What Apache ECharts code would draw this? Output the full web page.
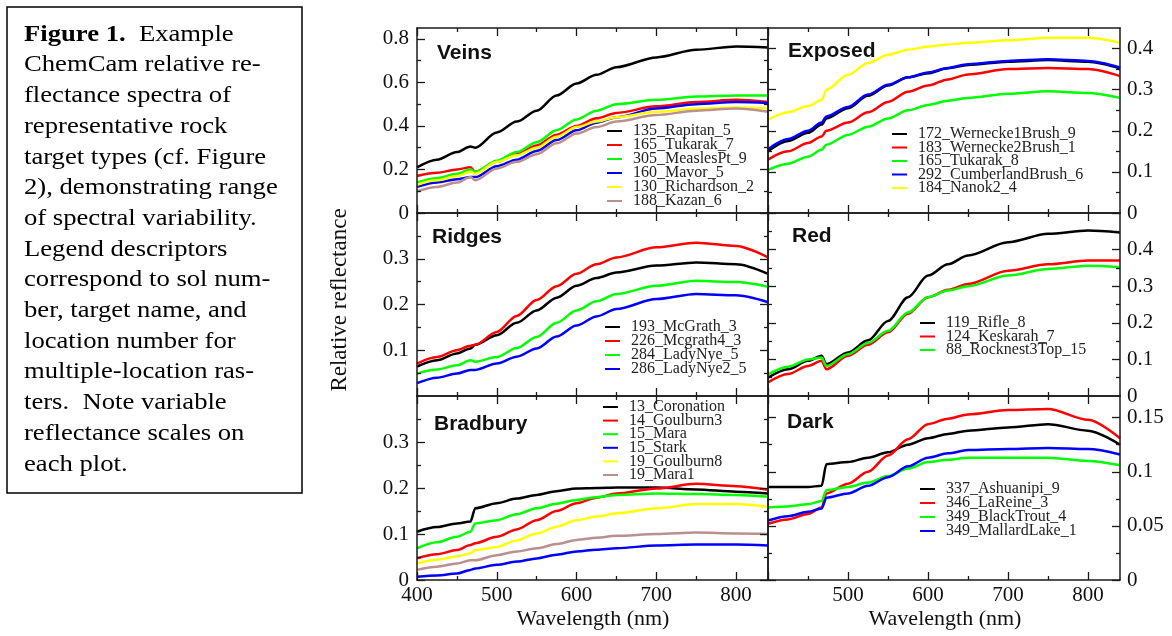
<!DOCTYPE html>
<html><head><meta charset="utf-8">
<script src="https://cdn.jsdelivr.net/npm/echarts@6/dist/echarts.min.js"></script>
<style>html,body{margin:0;padding:0;background:#fff}#c{width:1172px;height:636px}</style>
</head><body><div id="c"></div>
<script>
// ---------- DATA ----------
const wavelengths = [400, 425, 450, 467, 473, 500, 525, 550, 575, 600, 625, 650, 700, 750, 800, 840];

// Veins
const veins_135_Rapitan_5      = [.21, .245, .28, .305, .30, .37, .42, .47, .54, .595, .635, .67, .715, .75, .765, .76];
const veins_165_Tukarak_7      = [.17, .185, .20, .21, .19, .235, .27, .31, .36, .40, .435, .46, .49, .51, .52, .51];
const veins_305_MeaslesPt_9    = [.14, .16, .18, .20, .19, .24, .28, .325, .38, .43, .47, .50, .52, .535, .54, .54];
const veins_160_Mavor_5        = [.12, .14, .155, .165, .165, .215, .245, .285, .335, .38, .415, .44, .48, .50, .51, .505];
const veins_130_Richardson_2   = [.13, .15, .17, .19, .18, .235, .265, .30, .35, .395, .42, .44, .465, .48, .485, .48];
const veins_188_Kazan_6        = [.10, .12, .14, .165, .15, .205, .235, .27, .32, .365, .395, .42, .45, .47, .48, .465];
// Exposed
const exp_172_Wernecke1Brush_9   = [.15, .175, .195, .215, .23, .255, .285, .31, .33, .34, .352, .36, .368, .372, .368, .352];
const exp_183_Wernecke2Brush_1   = [.13, .15, .17, .186, .20, .22, .245, .27, .295, .31, .325, .337, .35, .353, .35, .333];
const exp_165_Tukarak_8          = [.105, .12, .137, .154, .166, .19, .21, .23, .25, .263, .273, .28, .29, .296, .292, .28];
const exp_292_CumberlandBrush_6  = [.155, .18, .20, .22, .235, .258, .288, .312, .33, .342, .353, .362, .37, .374, .37, .354];
const exp_184_Nanok2_4           = [.227, .245, .26, .275, .30, .336, .365, .385, .397, .405, .41, .414, .42, .426, .426, .414];
// Ridges
const rid_193_McGrath_3     = [.064, .078, .093, .104, .112, .133, .16, .187, .215, .241, .258, .27, .285, .292, .288, .267];
const rid_226_Mcgrath4_3    = [.071, .085, .10, .11, .112, .14, .175, .21, .24, .267, .288, .303, .325, .335, .328, .303];
const rid_284_LadyNye_5     = [.049, .058, .067, .078, .075, .085, .105, .129, .16, .187, .207, .223, .241, .252, .249, .239];
const rid_286_LadyNye2_5    = [.028, .04, .049, .057, .057, .071, .086, .104, .13, .154, .174, .19, .212, .223, .22, .205];
// Red
const red_119_Rifle_8          = [.05, .073, .096, .11, .087, .119, .152, .205, .27, .329, .36, .384, .42, .443, .452, .447];
const red_124_Keskarah_7       = [.037, .06, .082, .096, .073, .11, .14, .174, .225, .27, .29, .306, .342, .36, .37, .37];
const red_88_Rocknest3Top_15   = [.059, .08, .10, .105, .082, .114, .145, .178, .228, .27, .288, .30, .329, .347, .356, .352];
// Bradbury
const bra_13_Coronation  = [.105, .115, .123, .127, .156, .167, .177, .185, .193, .199, .20, .201, .201, .197, .192, .188];
const bra_14_Goulburn3   = [.047, .056, .065, .076, .08, .094, .11, .13, .15, .167, .179, .188, .199, .209, .204, .196];
const bra_15_Mara        = [.069, .082, .094, .105, .123, .13, .143, .156, .166, .174, .18, .185, .188, .187, .185, .181];
const bra_15_Stark       = [.007, .01, .014, .022, .025, .033, .04, .047, .055, .062, .066, .069, .075, .077, .077, .075];
const bra_19_Goulburn8   = [.036, .044, .051, .058, .065, .072, .086, .101, .116, .13, .138, .145, .156, .165, .165, .159];
const bra_19_Mara1       = [.022, .029, .036, .043, .043, .054, .062, .069, .078, .087, .092, .096, .10, .103, .101, .10];
// Dark
const dark_337_Ashuanipi_9   = [.086, .086, .086, .087, .107, .109, .113, .118, .125, .131, .135, .138, .141, .144, .138, .125];
const dark_346_LaReine_3     = [.052, .056, .061, .067, .08, .089, .10, .115, .13, .144, .149, .153, .157, .158, .148, .131];
const dark_349_BlackTrout_4  = [.067, .068, .07, .073, .083, .086, .09, .096, .103, .109, .111, .113, .113, .113, .11, .106];
const dark_349_MallardLake_1 = [.055, .059, .063, .066, .076, .08, .087, .095, .105, .113, .117, .12, .121, .122, .121, .116];

// tick values / labels
const xMajorTicks = [400, 500, 600, 700, 800];
const xMinorTicks = [450, 550, 650, 750];
const xLabelsLeft = [400, 500, 600, 700, 800];
const xLabelsRight = [500, 600, 700, 800];

const veinsTicks = [0, 0.2, 0.4, 0.6, 0.8],   veinsMinor = [0.1, 0.3, 0.5, 0.7],   veinsLabels = [0, 0.2, 0.4, 0.6, 0.8];
const exposedTicks = [0, 0.1, 0.2, 0.3, 0.4], exposedMinor = [0.05, 0.15, 0.25, 0.35], exposedLabels = [0, 0.1, 0.2, 0.3, 0.4];
const ridgesTicks = [0.1, 0.2, 0.3],          ridgesMinor = [0.05, 0.15, 0.25, 0.35], ridgesLabels = [0.1, 0.2, 0.3];
const redTicks = [0.1, 0.2, 0.3, 0.4],        redMinor = [0.05, 0.15, 0.25, 0.35, 0.45], redLabels = [0, 0.1, 0.2, 0.3, 0.4];
const bradTicks = [0, 0.1, 0.2, 0.3],         bradMinor = [0.05, 0.15, 0.25, 0.35],  bradLabels = [0, 0.1, 0.2, 0.3];
const darkTicks = [0, 0.05, 0.1, 0.15],       darkMinor = [0.025, 0.075, 0.125],     darkLabels = [0, 0.05, 0.1, 0.15];

const panelTitles = ['Veins', 'Exposed', 'Ridges', 'Red', 'Bradbury', 'Dark'];

// ---------- LAYOUT ----------
const SERIF = "'Liberation Serif', 'Times New Roman', serif";
const SANS = "'Liberation Sans', Arial, sans-serif";
const C = {k:'#000000', r:'#ff0000', g:'#00ff00', b:'#0000ff', y:'#ffff00', m:'#bc8f8f'};

const panels = [
  {left:417, top:28, w:351, h:185, ymax:0.85, yt:veinsTicks, ym:veinsMinor, yl:veinsLabels, side:'left', xl:[],
   tx:437, ty:54, lg:{left:607, top:123, gap:14},
   series:[['135_Rapitan_5', veins_135_Rapitan_5, C.k], ['165_Tukarak_7', veins_165_Tukarak_7, C.r], ['305_MeaslesPt_9', veins_305_MeaslesPt_9, C.g],
           ['160_Mavor_5', veins_160_Mavor_5, C.b], ['130_Richardson_2', veins_130_Richardson_2, C.y], ['188_Kazan_6', veins_188_Kazan_6, C.m]]},
  {left:768, top:28, w:352, h:185, ymax:0.45, yt:exposedTicks, ym:exposedMinor, yl:exposedLabels, side:'right', xl:[],
   tx:788, ty:52, lg:{left:892, top:126, gap:13.5},
   series:[['172_Wernecke1Brush_9', exp_172_Wernecke1Brush_9, C.k], ['183_Wernecke2Brush_1', exp_183_Wernecke2Brush_1, C.r], ['165_Tukarak_8', exp_165_Tukarak_8, C.g],
           ['292_CumberlandBrush_6', exp_292_CumberlandBrush_6, C.b], ['184_Nanok2_4', exp_184_Nanok2_4, C.y]]},
  {left:417, top:213, w:351, h:183, ymax:0.4, yt:ridgesTicks, ym:ridgesMinor, yl:ridgesLabels, side:'left', xl:[],
   tx:432, ty:238, lg:{left:605, top:319, gap:14},
   series:[['193_McGrath_3', rid_193_McGrath_3, C.k], ['226_Mcgrath4_3', rid_226_Mcgrath4_3, C.r], ['284_LadyNye_5', rid_284_LadyNye_5, C.g], ['286_LadyNye2_5', rid_286_LadyNye2_5, C.b]]},
  {left:768, top:213, w:352, h:183, ymax:0.5, yt:redTicks, ym:redMinor, yl:redLabels, side:'right', xl:[],
   tx:792, ty:237, lg:{left:920, top:315, gap:13.5},
   series:[['119_Rifle_8', red_119_Rifle_8, C.k], ['124_Keskarah_7', red_124_Keskarah_7, C.r], ['88_Rocknest3Top_15', red_88_Rocknest3Top_15, C.g]]},
  {left:417, top:396, w:351, h:184, ymax:0.4, yt:bradTicks, ym:bradMinor, yl:bradLabels, side:'left', xl:xLabelsLeft,
   tx:434, ty:425, lg:{left:603, top:399, gap:13.6},
   series:[['13_Coronation', bra_13_Coronation, C.k], ['14_Goulburn3', bra_14_Goulburn3, C.r], ['15_Mara', bra_15_Mara, C.g],
           ['15_Stark', bra_15_Stark, C.b], ['19_Goulburn8', bra_19_Goulburn8, C.y], ['19_Mara1', bra_19_Mara1, C.m]]},
  {left:768, top:396, w:352, h:184, ymax:0.17, yt:darkTicks, ym:darkMinor, yl:darkLabels, side:'right', xl:xLabelsRight,
   tx:787, ty:423, lg:{left:920, top:481, gap:14},
   series:[['337_Ashuanipi_9', dark_337_Ashuanipi_9, C.k], ['346_LaReine_3', dark_346_LaReine_3, C.r], ['349_BlackTrout_4', dark_349_BlackTrout_4, C.g], ['349_MallardLake_1', dark_349_MallardLake_1, C.b]]}
];

const AX = '#1a1a1a';
function mkAxis(dir, g, pos, min, max, ticks, len, labels, line) {
  return {
    type:'value', gridIndex:g, position:pos, min:min, max:max, scale:false,
    axisLine:{show:line, onZero:false, lineStyle:{color:AX, width:1.5}},
    axisTick:{show:true, inside:true, length:len, customValues:ticks, lineStyle:{color:AX, width:1.3}},
    splitLine:{show:false}, minorTick:{show:false},
    axisLabel:{show: labels.length>0, customValues: labels.length? labels : ticks, color:'#111', fontFamily:SERIF, fontSize:21,
      margin: dir==='x' ? 5 : (pos==='left' ? 8 : 7),
      formatter: v => String(+v.toFixed(3))},
    z: 5
  };
}

const LEG_FONT = 16;
const grid = [], xAxis = [], yAxis = [], series = [], legend = [], graphic = [];
panels.forEach((p, g) => {
  grid.push({left:p.left, top:p.top, width:p.w, height:p.h, containLabel:false});
  const xi = xAxis.length, yi = yAxis.length;
  xAxis.push(mkAxis('x', g, 'bottom', 400, 840, xMajorTicks, 8, p.xl, true));
  xAxis.push(mkAxis('x', g, 'bottom', 400, 840, xMinorTicks, 4, [], false));
  xAxis.push(mkAxis('x', g, 'top', 400, 840, xMajorTicks, 8, [], true));
  xAxis.push(mkAxis('x', g, 'top', 400, 840, xMinorTicks, 4, [], false));
  yAxis.push(mkAxis('y', g, 'left', 0, p.ymax, p.yt, 8, p.side==='left'? p.yl: [], true));
  yAxis.push(mkAxis('y', g, 'left', 0, p.ymax, p.ym, 4, [], false));
  yAxis.push(mkAxis('y', g, 'right', 0, p.ymax, p.yt, 8, p.side==='right'? p.yl: [], true));
  yAxis.push(mkAxis('y', g, 'right', 0, p.ymax, p.ym, 4, [], false));
  p.series.forEach(([name, arr, col]) => {
    series.push({
      name, type:'line', xAxisIndex:xi, yAxisIndex:yi, showSymbol:false, symbol:'none',
      smooth:0.3, smoothMonotone:'x', animation:false,
      lineStyle:{color:col, width:2.5}, itemStyle:{color:col},
      data: wavelengths.map((w, i) => [w, arr[i]])
    });
  });
  legend.push({
    orient:'vertical', left:p.lg.left, top:p.lg.top, padding:0, itemGap:p.lg.gap - LEG_FONT,
    icon:'rect', itemWidth:15, itemHeight:2,
    selectedMode:false,
    data:p.series.map(s => s[0]),
    textStyle:{fontFamily:SERIF, fontSize:LEG_FONT, color:'#222', padding:[0,0,0,6]}
  });
  graphic.push({type:'text', left:p.tx, top:p.ty - 11, z:20,
    style:{text:panelTitles[g], font:'bold 21px ' + SANS, fill:'#111'}});
});

// caption box
const captionLines = [
  '{b|Figure 1.}  Example',
  'ChemCam relative re-',
  'flectance spectra of',
  'representative rock',
  'target types (cf. Figure',
  '2), demonstrating range',
  'of spectral variability.',
  'Legend descriptors',
  'correspond to sol num-',
  'ber, target name, and',
  'location number for',
  'multiple-location ras-',
  'ters.  Note variable',
  'reflectance scales on',
  'each plot.'
];
graphic.push({type:'rect', shape:{x:7, y:7, width:295, height:486}, style:{fill:'none', stroke:'#000', lineWidth:1.5}});
captionLines.forEach((t, i) => {
  graphic.push({type:'text', x:24, y:34.5 + i*30.7, scaleX:1.11,
    style:{text:t, fontFamily:SERIF, fontSize:24, fill:'#000', verticalAlign:'middle', align:'left',
      rich:{b:{fontFamily:SERIF, fontSize:24, fontWeight:'bold', fill:'#000'}}}});
});
graphic.push({type:'text', x:340, y:300, rotation:Math.PI/2,
  style:{text:'Relative reflectance', fontFamily:SERIF, fontSize:23, fill:'#111', align:'center', verticalAlign:'middle'}});
graphic.push({type:'text', x:593, y:619,
  style:{text:'Wavelength (nm)', fontFamily:SERIF, fontSize:22, fill:'#111', align:'center', verticalAlign:'middle'}});
graphic.push({type:'text', x:945, y:619,
  style:{text:'Wavelength (nm)', fontFamily:SERIF, fontSize:22, fill:'#111', align:'center', verticalAlign:'middle'}});

const chart = echarts.init(document.getElementById('c'), null, {renderer:'canvas'});
chart.setOption({animation:false, backgroundColor:'#fff', grid, xAxis, yAxis, series, legend, graphic});
</script></body></html>
